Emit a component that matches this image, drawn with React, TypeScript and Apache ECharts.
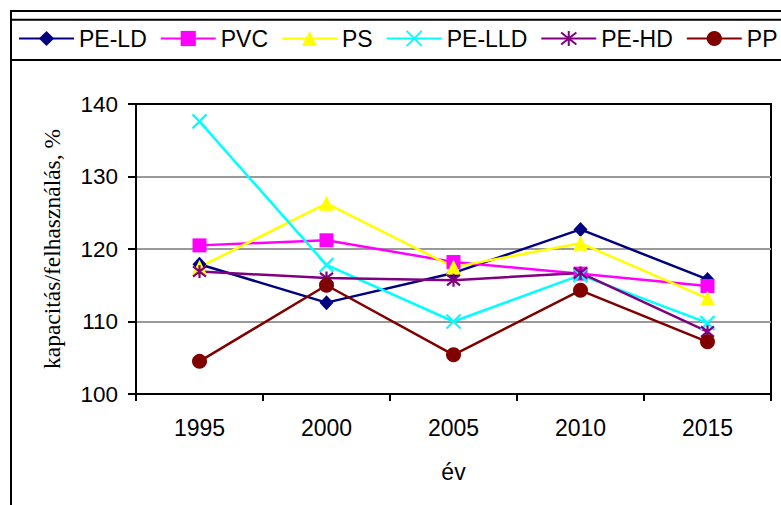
import React, { useEffect, useRef } from "react";
import * as echarts from "echarts";

const years = ["1995", "2000", "2005", "2010", "2015"];
const seriesNames = ["PE-LD", "PVC", "PS", "PE-LLD", "PE-HD", "PP"];
const peLD = [117.9, 112.6, 116.7, 122.7, 115.8];
const pvc = [120.5, 121.2, 118.2, 116.6, 114.9];
const ps = [117.5, 126.3, 117.5, 120.8, 113.2];
const peLLD = [137.6, 117.8, 110.0, 116.4, 109.8];
const peHD = [116.9, 116.0, 115.7, 116.7, 108.6];
const pp = [104.5, 115.0, 105.4, 114.3, 107.2];
const yTicks = { min: 100, max: 140, interval: 10 };
const xTitle = "év";
const yTitle = "kapacitás/felhasználás, %";

const colors = ["#000080", "#FF00FF", "#FFFF00", "#00FFFF", "#800080", "#800000"];
const symbols = [
  "diamond",
  "rect",
  "triangle",
  "path://M0,0L10,10M10,0L0,10",
  "path://M1,1L9,9M9,1L1,9M5,0L5,10",
  "circle",
];
const symbolSizes: any[] = [[14, 15], 14, 15, 14, 13, 15];
const values = [peLD, pvc, ps, peLLD, peHD, pp];

const SANS = "'Liberation Sans', Arial, sans-serif";
const SERIF = "'Liberation Serif', 'Times New Roman', serif";

export default function App() {
  const ref = useRef<HTMLDivElement>(null);
  useEffect(() => {
    if (!ref.current) return;
    const chart = echarts.init(ref.current, undefined, { renderer: "svg" });
    const series = seriesNames.map((name, i) => {
      const isStroke = i === 3 || i === 4;
      return {
        name,
        type: "line",
        data: values[i],
        symbol: symbols[i],
        symbolSize: symbolSizes[i],
        showAllSymbol: true,
        lineStyle: { color: colors[i], width: 2.5 },
        itemStyle: {
          color: colors[i],
          borderColor: colors[i],
          borderWidth: isStroke ? 2.2 : 0,
          opacity: 1,
        },
        emphasis: { disabled: true },
      };
    });
    chart.setOption({
      animation: false,
      backgroundColor: "#fff",
      graphic: [
        {
          type: "rect",
          z: -10,
          shape: { x: 11, y: 11, width: 900, height: 700 },
          style: { fill: "none", stroke: "#000", lineWidth: 2 },
        },
        {
          type: "rect",
          z: -10,
          shape: { x: 11, y: 19.7, width: 900, height: 40.3 },
          style: { fill: "none", stroke: "#000", lineWidth: 2 },
        },
      ],
      legend: {
        left: 18,
        top: 27,
        padding: 0,
        itemWidth: 55,
        itemHeight: 19,
        itemGap: 13,
        data: seriesNames,
        textStyle: { fontFamily: SANS, fontSize: 23, color: "#000" },
        selectedMode: false,
      },
      grid: {
        left: 136,
        top: 104,
        right: 10,
        bottom: 111,
        show: true,
        borderColor: "#000",
        borderWidth: 2,
        backgroundColor: "transparent",
      },
      xAxis: {
        type: "category",
        data: years,
        boundaryGap: true,
        name: xTitle,
        nameLocation: "middle",
        nameGap: 66,
        nameTextStyle: { fontFamily: SANS, fontSize: 23, color: "#000" },
        axisLine: { show: true, lineStyle: { color: "#000", width: 2 } },
        axisTick: { show: true, interval: 0, length: 7, lineStyle: { color: "#000", width: 2 } },
        axisLabel: { fontFamily: SANS, fontSize: 23, color: "#000", margin: 22, interval: 0 },
        splitLine: { show: false },
      },
      yAxis: {
        type: "value",
        min: yTicks.min,
        max: yTicks.max,
        interval: yTicks.interval,
        name: yTitle,
        nameLocation: "middle",
        nameGap: 72,
        nameTextStyle: { fontFamily: SERIF, fontSize: 23.5, color: "#000" },
        axisLine: { show: true, lineStyle: { color: "#000", width: 2 } },
        axisTick: { show: true, length: 8, lineStyle: { color: "#000", width: 2 } },
        axisLabel: { fontFamily: SANS, fontSize: 22.5, color: "#000", margin: 18 },
        splitLine: {
          show: true,
          lineStyle: { color: ["#000", "#999", "#999", "#999", "#000"], width: 2 },
        },
      },
      series,
    });
    return () => chart.dispose();
  }, []);
  return (
    <div
      ref={ref}
      style={{ position: "fixed", left: 0, top: 0, width: 781, height: 505, background: "#fff" }}
    />
  );
}
